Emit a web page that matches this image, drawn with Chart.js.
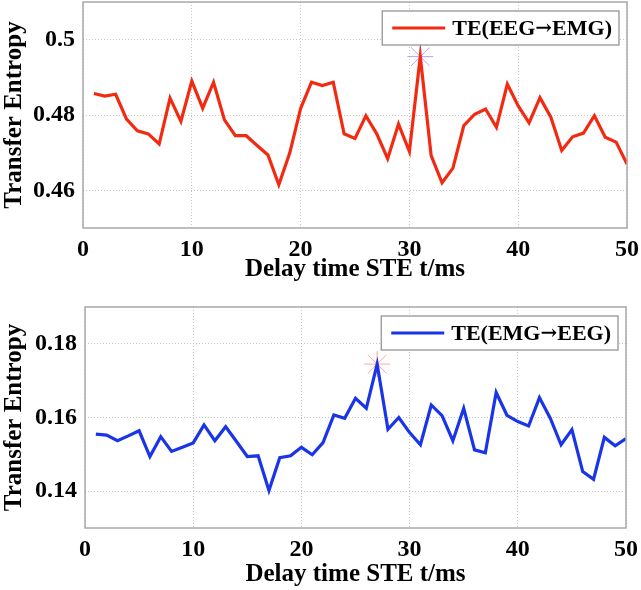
<!DOCTYPE html>
<html>
<head>
<meta charset="utf-8">
<script src="https://cdn.jsdelivr.net/npm/chart.js@4.4.1/dist/chart.umd.min.js"></script>
<style>
  body { margin: 0; background: #fff; }
  #wrap { position: relative; width: 641px; height: 590px; }
  #topChart { position: absolute; left: 0; top: 0; }
  #bottomChart { position: absolute; left: 0; top: 300px; }
</style>
</head>
<body>
<div id="wrap">
  <canvas id="topChart" width="641" height="300"></canvas>
  <canvas id="bottomChart" width="641" height="290"></canvas>
</div>
<script>
// delay time t/ms
const delays = [1, 2, 3, 4, 5, 6, 7, 8, 9, 10,
                11, 12, 13, 14, 15, 16, 17, 18, 19, 20,
                21, 22, 23, 24, 25, 26, 27, 28, 29, 30,
                31, 32, 33, 34, 35, 36, 37, 38, 39, 40,
                41, 42, 43, 44, 45, 46, 47, 48, 49, 50];

// TE(EEG->EMG)
const teEegToEmg = [0.4857, 0.4850, 0.4855, 0.4789, 0.4758, 0.4750, 0.4723, 0.4845, 0.4783, 0.4890,
                    0.4818, 0.4887, 0.4787, 0.4745, 0.4745, 0.4719, 0.4694, 0.4615, 0.4699, 0.4817,
                    0.4887, 0.4878, 0.4887, 0.4750, 0.4738, 0.4798, 0.4750, 0.4684, 0.4776, 0.4703,
                    0.4955, 0.4692, 0.4620, 0.4659, 0.4772, 0.4802, 0.4816, 0.4767, 0.4882, 0.4824,
                    0.4779, 0.4846, 0.4794, 0.4706, 0.4742, 0.4752, 0.4798, 0.4741, 0.4728, 0.4670];

// TE(EMG->EEG)
const teEmgToEeg = [0.1555, 0.1552, 0.1537, 0.1550, 0.1564, 0.1494, 0.1548, 0.1508, 0.1519, 0.1531,
                    0.1580, 0.1537, 0.1575, 0.1535, 0.1494, 0.1496, 0.1402, 0.1491, 0.1496, 0.1519,
                    0.1499, 0.1532, 0.1607, 0.1598, 0.1652, 0.1625, 0.1745, 0.1568, 0.1600, 0.1559,
                    0.1526, 0.1634, 0.1605, 0.1537, 0.1625, 0.1512, 0.1504, 0.1668, 0.1606, 0.1589,
                    0.1577, 0.1654, 0.1598, 0.1526, 0.1567, 0.1453, 0.1432, 0.1546, 0.1523, 0.1543];

const xTicks = [0, 10, 20, 30, 40, 50];
const yTicksTop = [0.46, 0.48, 0.5];
const yTicksBottom = [0.14, 0.16, 0.18];

const serif = '"Liberation Serif", "Times New Roman", serif';
const arrowFont = '"DejaVu Serif", serif';

// box round the plot area (matlab "box on")
const frame = {
    id: 'frame',
    afterDatasetsDraw(chart) {
        const a = chart.chartArea;
        const ctx = chart.ctx;
        ctx.save();
        ctx.strokeStyle = '#a8a8a8';
        ctx.lineWidth = 1.5;
        ctx.strokeRect(a.left, a.top, a.right - a.left, a.bottom - a.top);
        ctx.restore();
    }
};

// legend with a frame, top right inside the plot
const legendBox = {
    id: 'legendBox',
    afterDraw(chart) {
        const ds = chart.data.datasets[0];
        const a = chart.chartArea;
        const ctx = chart.ctx;
        const parts = ds.label.split('\u2192');
        const textFont = 'bold 22px ' + serif;
        const arrFont = 'bold 20px ' + arrowFont;
        ctx.save();
        ctx.font = textFont;
        const w0 = ctx.measureText(parts[0]).width;
        const w2 = ctx.measureText(parts[1]).width;
        ctx.font = arrFont;
        const w1 = ctx.measureText('\u2192').width;
        const textW = w0 + w1 + w2;
        const w = 10 + 53 + 7 + textW + 7;
        const h = 34;
        const right = a.right - 8;
        const top = a.top + 9;
        const left = right - w;
        ctx.fillStyle = '#fff';
        ctx.fillRect(left, top, w, h);
        ctx.strokeStyle = '#8c8c8c';
        ctx.lineWidth = 1.2;
        ctx.strokeRect(left, top, w, h);
        // sample line
        ctx.strokeStyle = ds.borderColor;
        ctx.lineWidth = ds.borderWidth;
        ctx.beginPath();
        ctx.moveTo(left + 10, top + h / 2);
        ctx.lineTo(left + 63, top + h / 2);
        ctx.stroke();
        // text
        ctx.fillStyle = '#000';
        ctx.textBaseline = 'middle';
        ctx.textAlign = 'left';
        let tx = left + 70;
        const ty = top + h / 2 + 1;
        ctx.font = textFont;
        ctx.fillText(parts[0], tx, ty);
        tx += w0;
        ctx.font = arrFont;
        ctx.fillText('\u2192', tx, ty);
        tx += w1;
        ctx.font = textFont;
        ctx.fillText(parts[1], tx, ty);
        ctx.restore();
    }
};

function makeChart(canvasId, values, label, colour, starColour, yMin, yMax, yTicks, box) {
    // peak of the series gets a star marker
    const peak = Math.max(...values);
    const peakIdx = values.indexOf(peak);

    const points = delays.map((d, i) => ({x: d, y: values[i]}));

    return new Chart(document.getElementById(canvasId), {
        type: 'line',
        data: {
            datasets: [
                {
                    label: label,
                    data: points,
                    borderColor: colour,
                    backgroundColor: colour,
                    borderWidth: 3.2,
                    pointRadius: 0,
                    tension: 0,
                    fill: false
                },
                {
                    label: 'peak',
                    data: [{x: delays[peakIdx], y: peak}],
                    showLine: false,
                    pointStyle: 'star',
                    pointRadius: 13,
                    borderColor: starColour,
                    backgroundColor: starColour,
                    borderWidth: 1
                }
            ]
        },
        options: {
            responsive: false,
            animation: false,
            devicePixelRatio: 1,
            layout: {
                autoPadding: false,
                padding: {top: box.top, right: box.right, left: 0, bottom: 0}
            },
            plugins: {
                legend: {display: false},
                tooltip: {enabled: false}
            },
            scales: {
                x: {
                    type: 'linear',
                    min: 0,
                    max: 50,
                    afterBuildTicks: (scale) => { scale.ticks = xTicks.map(v => ({value: v})); },
                    afterFit: (scale) => {
                        scale.height = box.xHeight;
                        scale.paddingLeft = 0;
                        scale.paddingRight = 0;
                    },
                    grid: {color: '#c4c4c4', drawTicks: false},
                    border: {display: false, dash: [1, 2]},
                    ticks: {
                        color: '#000',
                        padding: 7,
                        maxRotation: 0,
                        font: {family: serif, size: 24, weight: 'bold'}
                    },
                    title: {
                        display: true,
                        text: 'Delay time STE t/ms',
                        color: '#000',
                        padding: {top: 0, bottom: box.titlePad},
                        font: {family: serif, size: 25, weight: 'bold'}
                    }
                },
                y: {
                    min: yMin,
                    max: yMax,
                    afterBuildTicks: (scale) => { scale.ticks = yTicks.map(v => ({value: v})); },
                    afterFit: (scale) => {
                        scale.width = box.yWidth;
                        scale.paddingTop = 0;
                        scale.paddingBottom = 0;
                    },
                    grid: {color: '#c4c4c4', drawTicks: false},
                    border: {display: false, dash: [1, 2]},
                    ticks: {
                        color: '#000',
                        padding: 8,
                        font: {family: serif, size: 24, weight: 'bold'},
                        callback: (v) => String(+v.toFixed(2))
                    },
                    title: {
                        display: true,
                        text: 'Transfer Entropy',
                        color: '#000',
                        padding: {top: 0, bottom: 0},
                        font: {family: serif, size: 25, weight: 'bold'}
                    }
                }
            }
        },
        plugins: [frame, legendBox]
    });
}

makeChart('topChart', teEegToEmg, 'TE(EEG\u2192EMG)', '#f22a12', 'rgba(130,130,255,0.7)',
          0.45, 0.51, yTicksTop,
          {top: 2, right: 14, yWidth: 83, xHeight: 72, titlePad: 15});

makeChart('bottomChart', teEmgToEeg, 'TE(EMG\u2192EEG)', '#1a35e8', 'rgba(255,130,130,0.7)',
          0.13, 0.19, yTicksBottom,
          {top: 7, right: 15, yWidth: 85, xHeight: 62, titlePad: 0});
</script>
</body>
</html>
